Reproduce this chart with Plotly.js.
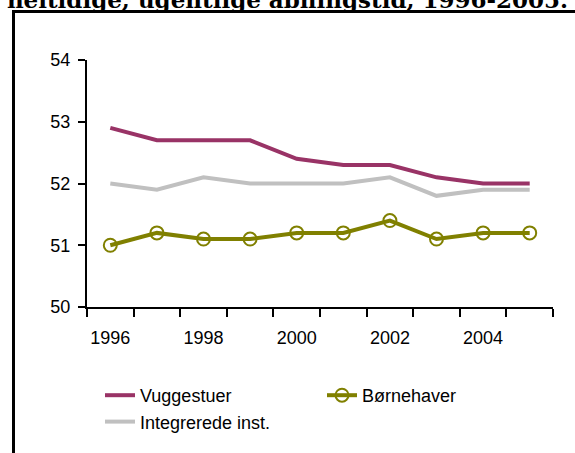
<!DOCTYPE html>
<html>
<head>
<meta charset="utf-8">
<script src="https://cdn.plot.ly/plotly-3.0.1.min.js"></script>
<style>
  html, body { margin: 0; padding: 0; background: #ffffff; }
  #chart { width: 575px; height: 453px; }
</style>
</head>
<body>
<div id="chart"></div>
<script>
const years = ["1996","1997","1998","1999","2000","2001","2002","2003","2004","2005"];
const yearLabels = ["1996","","1998","","2000","","2002","","2004",""];
const vuggestuer = [52.9, 52.7, 52.7, 52.7, 52.4, 52.3, 52.3, 52.1, 52.0, 52.0];
const boernehaver = [51.0, 51.2, 51.1, 51.1, 51.2, 51.2, 51.4, 51.1, 51.2, 51.2];
const integrerede = [52.0, 51.9, 52.1, 52.0, 52.0, 52.0, 52.1, 51.8, 51.9, 51.9];
const seriesNames = ["Vuggestuer", "Børnehaver", "Integrerede inst."];
const titleText = "heltidige, ugentlige åbningstid, 1996-2005.";

const traces = [
  { x: years, y: vuggestuer, name: seriesNames[0], type: "scatter", mode: "lines",
    line: { color: "#993366", width: 4 } },
  { x: years, y: boernehaver, name: seriesNames[1], type: "scatter", mode: "lines+markers",
    line: { color: "#808000", width: 4 },
    marker: { symbol: "circle-open", size: 13, color: "#808000", line: { width: 2, color: "#808000" } } },
  { x: years, y: integrerede, name: seriesNames[2], type: "scatter", mode: "lines",
    line: { color: "#C0C0C0", width: 4 } }
];

const L = 87, R = 22, T = 60, B = 146;
const W = 575, H = 453;
const pw = W - L - R, ph = H - T - B;
const px = v => (v - L) / pw;
const py = v => (H - B - v) / ph;

const layout = {
  width: W, height: H,
  margin: { l: L, r: R, t: T, b: B, pad: 0, autoexpand: false },
  paper_bgcolor: "#ffffff",
  plot_bgcolor: "#ffffff",
  font: { family: "Liberation Sans", size: 18, color: "#000000" },
  title: {
    text: titleText,
    font: { family: "DejaVu Serif", size: 23, weight: "bold", color: "#000000" },
    x: 0.5, xanchor: "center", xref: "container",
    y: 1, yanchor: "middle", yref: "container"
  },
  xaxis: {
    type: "category",
    range: [-0.5, 9.5],
    tickmode: "array",
    tickvals: years,
    ticktext: yearLabels,
    tickson: "boundaries",
    tickangle: 0,
    automargin: false,
    ticklabelstandoff: 13,
    ticks: "outside", ticklen: 8, tickwidth: 2, tickcolor: "#000",
    showline: true, linewidth: 2, linecolor: "#000",
    showgrid: false, zeroline: false,
    tickfont: { family: "Liberation Sans", size: 18 }
  },
  yaxis: {
    range: [50, 54],
    dtick: 1, tick0: 50,
    automargin: false,
    ticklabelstandoff: 4,
    ticks: "outside", ticklen: 7, tickwidth: 2, tickcolor: "#000",
    showline: true, linewidth: 2, linecolor: "#000",
    showgrid: false, zeroline: false,
    tickfont: { family: "Liberation Sans", size: 18 }
  },
  showlegend: true,
  legend: {
    orientation: "h",
    x: px(100), xanchor: "left",
    y: py(377), yanchor: "top",
    entrywidth: 177, entrywidthmode: "pixels",
    font: { family: "Liberation Sans", size: 18 },
    tracegroupgap: 0,
    bgcolor: "rgba(0,0,0,0)"
  },
  shapes: [
    { type: "line", xref: "paper", yref: "paper",
      x0: px(13.5), x1: px(13.5), y0: py(460), y1: py(11.5),
      line: { color: "#000", width: 3 } },
    { type: "line", xref: "paper", yref: "paper",
      x0: px(12), x1: px(580), y0: py(11.5), y1: py(11.5),
      line: { color: "#000", width: 3 } }
  ]
};

Plotly.newPlot("chart", traces, layout, { displayModeBar: false, staticPlot: true });
</script>
</body>
</html>
